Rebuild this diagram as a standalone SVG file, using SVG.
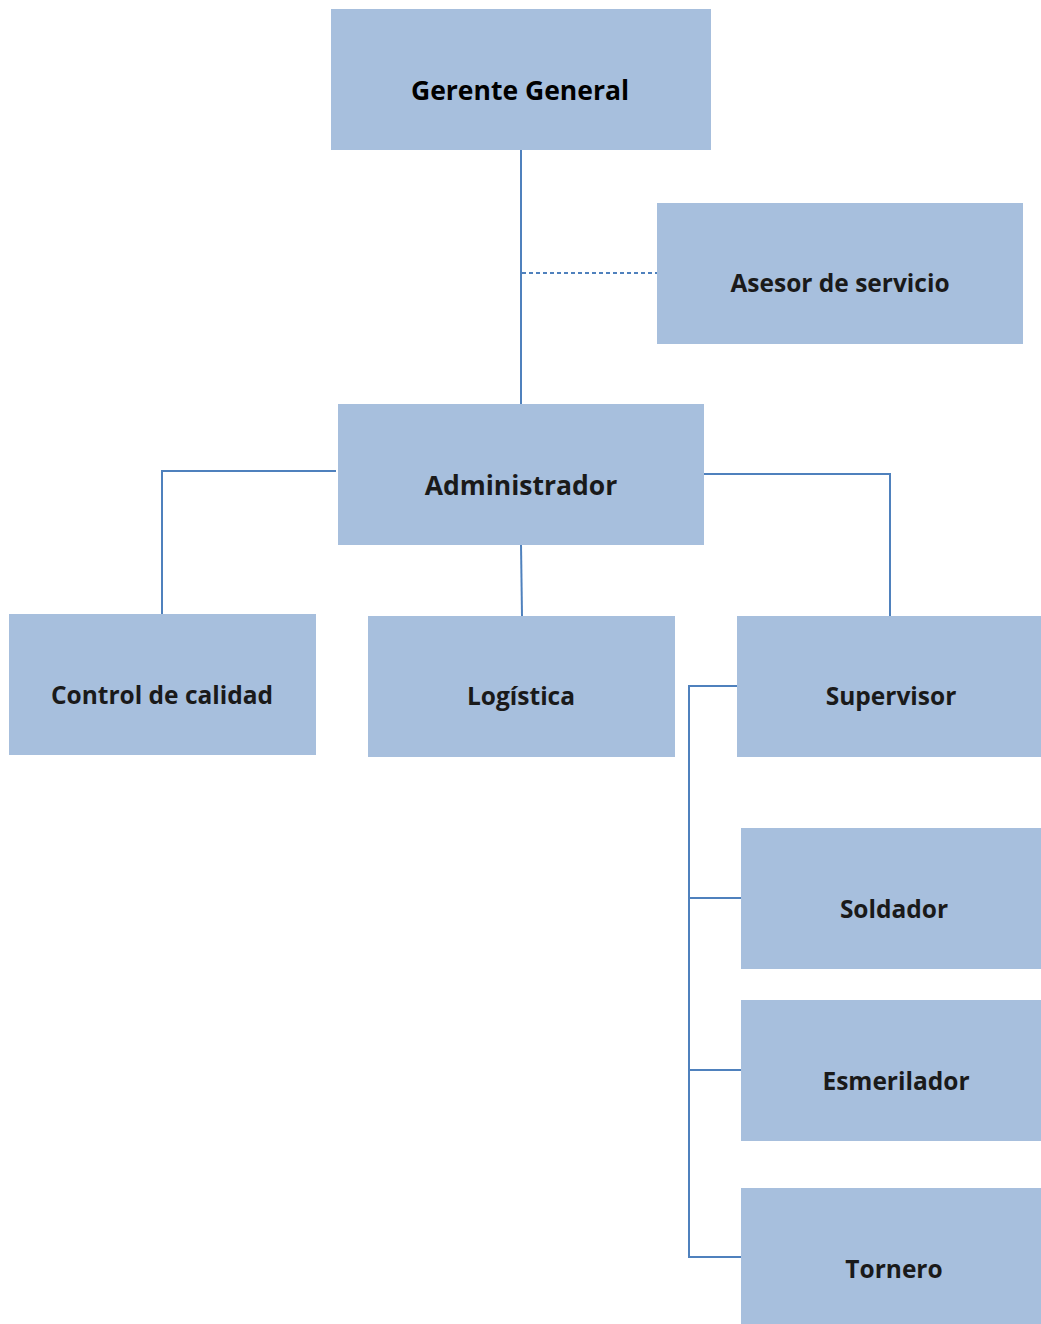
<svg xmlns="http://www.w3.org/2000/svg" width="1041" height="1324" viewBox="0 0 1041 1324">
<style>
.box{fill:#A7BFDD;}
.lbl{font-family:"Open Sans","Liberation Sans",sans-serif;font-weight:bold;font-size:24.5px;fill:#1a1a1a;text-anchor:middle;}
.big{font-size:26.5px;}
.ln{fill:none;stroke:#4F81BD;stroke-width:2;}
.dash{fill:none;stroke:#4F81BD;stroke-width:2;stroke-dasharray:4 3;}
</style>
<rect width="1041" height="1324" fill="#ffffff"/>
<g id="connectors">
<path class="ln" d="M521 150 V404"/>
<path class="dash" d="M522 273 H657"/>
<path class="ln" d="M336 471 H162 V614"/>
<path class="ln" d="M704 474 H890 V616"/>
<path class="ln" d="M521 544 L522 616"/>
<path class="ln" d="M737 686 H689 V1257 H741"/>
<path class="ln" d="M689 898 H741"/>
<path class="ln" d="M689 1070 H741"/>
</g>
<g id="gerente"><rect class="box" x="331" y="9" width="380" height="141"/><text class="lbl big" x="520" y="100" style="fill:#000">Gerente General</text></g>
<g id="asesor"><rect class="box" x="657" y="203" width="366" height="141"/><text class="lbl" x="840" y="292">Asesor de servicio</text></g>
<g id="administrador"><rect class="box" x="338" y="404" width="366" height="141"/><text class="lbl big" x="521" y="495">Administrador</text></g>
<g id="control"><rect class="box" x="9" y="614" width="307" height="141"/><text class="lbl" x="162" y="704">Control de calidad</text></g>
<g id="logistica"><rect class="box" x="368" y="616" width="307" height="141"/><text class="lbl" x="521" y="705">Logística</text></g>
<g id="supervisor"><rect class="box" x="737" y="616" width="304" height="141"/><text class="lbl" x="891" y="705">Supervisor</text></g>
<g id="soldador"><rect class="box" x="741" y="828" width="300" height="141"/><text class="lbl" x="894" y="918">Soldador</text></g>
<g id="esmerilador"><rect class="box" x="741" y="1000" width="300" height="141"/><text class="lbl" x="896" y="1090">Esmerilador</text></g>
<g id="tornero"><rect class="box" x="741" y="1188" width="300" height="136"/><text class="lbl" x="894" y="1278">Tornero</text></g>
</svg>
